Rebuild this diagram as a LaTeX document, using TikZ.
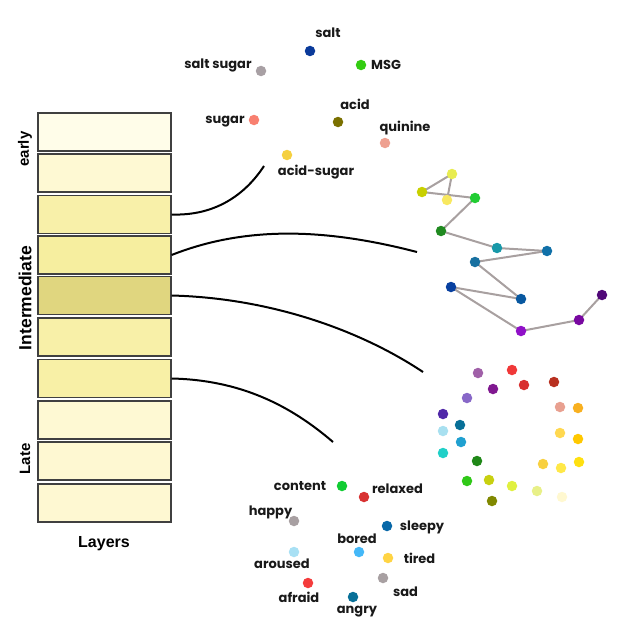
\documentclass[tikz,border=0pt]{standalone}
\usepackage{fontspec}
\newfontfamily\lab{Poppins}
\newfontfamily\arl{Liberation Sans}
\usetikzlibrary{backgrounds}
\definecolor{linkgray}{HTML}{A8A0A0}
\newcommand{\dc}[2]{\definecolor{#1}{HTML}{#2}}
\dc{L1}{FFFDE9}\dc{L2}{FEF9D3}\dc{L3}{F8F0A9}\dc{L4}{F6EE9F}\dc{L5}{E0D67F}
\dc{L6}{F8F0A8}\dc{L7}{F8F0A6}\dc{L8}{FEF9D3}\dc{L9}{FEF8D2}\dc{L10}{FEF8D2}
\dc{Tsalt}{0A3A9A}\dc{Tss}{A8A0A4}\dc{Tmsg}{33CC11}\dc{Tacid}{7A7000}\dc{Tsugar}{F88070}
\dc{Tquin}{EEA090}\dc{Tas}{F5D040}
\dc{C1}{E8EC50}\dc{C2}{C8D000}\dc{C3}{F8E860}\dc{C4}{22CC33}\dc{C5}{208A20}
\dc{C6}{1898A8}\dc{C7}{1070A8}\dc{C8}{1870A0}\dc{C9}{0858A0}\dc{C10}{0840A0}
\dc{C11}{9010C8}\dc{C12}{7808A0}\dc{C13}{500878}
\dc{G1}{A060A8}\dc{G2}{F03838}\dc{G3}{801890}\dc{G4}{D83030}\dc{G5}{B83020}
\dc{G6}{8868C8}\dc{G7}{5028A8}\dc{G8}{087098}\dc{G9}{E8A090}\dc{G10}{F8B020}
\dc{G11}{A8E0F0}\dc{G12}{20A0D0}\dc{G13}{FFD850}\dc{G14}{FFC800}\dc{G15}{20D0C8}
\dc{G16}{208818}\dc{G17}{F8D040}\dc{G18}{FFE848}\dc{G19}{FFE010}\dc{G20}{30C818}
\dc{G21}{C8D010}\dc{G22}{E0F040}\dc{G23}{E8F088}\dc{G24}{FFF8D0}\dc{G25}{808800}
\dc{Econtent}{11CC33}\dc{Erelaxed}{D83232}\dc{Egray}{A8A0A2}\dc{Esleepy}{0868A8}
\dc{Ebored}{44B8F8}\dc{Earoused}{A8E0F4}\dc{Etired}{FFD444}\dc{Eafraid}{F43C3C}
\dc{Eangry}{087098}
\begin{document}
\begin{tikzpicture}[x=1pt,y=-1pt,
  dot/.style={circle,fill=#1,minimum size=10.5pt,inner sep=0pt},
  lbl/.style={font=\lab\bfseries\fontsize{13}{15}\selectfont,inner sep=0pt,text=black!90},
  side/.style={font=\arl\bfseries\fontsize{#1}{#1}\selectfont,inner sep=0pt,rotate=90},
  layer/.style={draw=black!75,line width=1.2pt,fill=#1,minimum width=133pt,minimum height=38pt,inner sep=0pt},
  conn/.style={line width=2pt},
  link/.style={draw=linkgray,line width=2pt}]
\useasboundingbox (0,0) rectangle (628,634);

% layers
\node[layer=L1] (r1) at (104.5,132) {};
\node[layer=L2] (r2) at (104.5,173) {};
\node[layer=L3] (r3) at (104.5,214.5) {};
\node[layer=L4] (r4) at (104.5,255) {};
\node[layer=L5] (r5) at (104.5,295.5) {};
\node[layer=L6] (r6) at (104.5,337) {};
\node[layer=L7] (r7) at (104.5,378.5) {};
\node[layer=L8] (r8) at (104.5,420) {};
\node[layer=L9] (r9) at (104.5,461) {};
\node[layer=L10] (r10) at (104.5,503) {};

\node[side=15] (tEarly) at (25,149) {early};
\node[side=17.5] (tInter) at (25,298) {Intermediate};
\node[side=15] (tLate) at (25,459) {Late};
\node[font=\arl\bfseries\fontsize{16}{16}\selectfont,inner sep=0pt] (tLayers) at (104,544) {Layers};

% connectors
\coordinate (e1) at (264,166);
\coordinate (e2) at (417,252);
\coordinate (e3) at (423,372);
\coordinate (e4) at (333,442);
\draw[conn] (r3.east) .. controls (215,216) and (245,195) .. (e1);
\draw[conn] (r4.east) .. controls (250,224) and (332,230) .. (e2);
\draw[conn] (r5.east) .. controls (270,298) and (360,330) .. (e3);
\draw[conn] (r7.east) .. controls (240,380) and (290,405) .. (e4);

% taste cluster
\node[dot=Tsalt] (salt) at (310,51) {};
\node[dot=Tss] (saltsugar) at (261,71) {};
\node[dot=Tmsg] (msg) at (361,65) {};
\node[dot=Tacid] (acid) at (338,122) {};
\node[dot=Tsugar] (sugar) at (254,120) {};
\node[dot=Tquin] (quinine) at (385,143) {};
\node[dot=Tas] (acidsugar) at (287,155) {};
\node[lbl] (lsalt) at (328,33) {salt};
\node[lbl] (lsaltsugar) at (218,65) {salt sugar};
\node[lbl] (lmsg) at (386,65) {MSG};
\node[lbl] (lacid) at (355,104) {acid};
\node[lbl] (lsugar) at (225,122) {sugar};
\node[lbl] (lquinine) at (405,128) {quinine};
\node[lbl] (lacidsugar) at (316,172) {acid-sugar};

% chain cluster
\node[dot=C1] (c1) at (452,174) {};
\node[dot=C2] (c2) at (422,192) {};
\node[dot=C3] (c3) at (447,200) {};
\node[dot=C4] (c4) at (475,198) {};
\node[dot=C5] (c5) at (441,231) {};
\node[dot=C6] (c6) at (497,248) {};
\node[dot=C7] (c7) at (547,251) {};
\node[dot=C8] (c8) at (475,262) {};
\node[dot=C9] (c9) at (521,299) {};
\node[dot=C10] (c10) at (451,287) {};
\node[dot=C11] (c11) at (521,331) {};
\node[dot=C12] (c12) at (579,320) {};
\node[dot=C13] (c13) at (602,295) {};
\begin{scope}[on background layer]
\draw[link] (c2.center) -- (c1.center);
\draw[link] (c1.center) -- (c3.center);
\draw[link] (c2.center) -- (c4.center);
\draw[link] (c4.center) -- (c5.center);
\draw[link] (c5.center) -- (c6.center);
\draw[link] (c6.center) -- (c7.center);
\draw[link] (c7.center) -- (c8.center);
\draw[link] (c8.center) -- (c9.center);
\draw[link] (c9.center) -- (c10.center);
\draw[link] (c10.center) -- (c11.center);
\draw[link] (c11.center) -- (c12.center);
\draw[link] (c12.center) -- (c13.center);
\end{scope}

% ring cluster
\node[dot=G1] (g1) at (478,373) {};
\node[dot=G2] (g2) at (512,370) {};
\node[dot=G3] (g3) at (493,389) {};
\node[dot=G4] (g4) at (524,385) {};
\node[dot=G5] (g5) at (554,382) {};
\node[dot=G6] (g6) at (467,398) {};
\node[dot=G7] (g7) at (443,414) {};
\node[dot=G8] (g8) at (460,425) {};
\node[dot=G9] (g9) at (560,407) {};
\node[dot=G10] (g10) at (578,408) {};
\node[dot=G11] (g11) at (443,431) {};
\node[dot=G12] (g12) at (461,442) {};
\node[dot=G13] (g13) at (560,433) {};
\node[dot=G14] (g14) at (578,439) {};
\node[dot=G15] (g15) at (443,453) {};
\node[dot=G16] (g16) at (477,461) {};
\node[dot=G17] (g17) at (543,464) {};
\node[dot=G18] (g18) at (561,468) {};
\node[dot=G19] (g19) at (579,462) {};
\node[dot=G20] (g20) at (467,481) {};
\node[dot=G21] (g21) at (489,480) {};
\node[dot=G22] (g22) at (512,486) {};
\node[dot=G23] (g23) at (537,491) {};
\node[dot=G24] (g24) at (562,497) {};
\node[dot=G25] (g25) at (492,501) {};

% emotion cluster
\node[dot=Econtent] (content) at (342,486) {};
\node[dot=Erelaxed] (relaxed) at (364,497) {};
\node[dot=Egray] (happy) at (294,521) {};
\node[dot=Esleepy] (sleepy) at (387,526) {};
\node[dot=Ebored] (bored) at (359,552) {};
\node[dot=Earoused] (aroused) at (294,552) {};
\node[dot=Etired] (tired) at (388,558) {};
\node[dot=Egray] (sad) at (383,578) {};
\node[dot=Eafraid] (afraid) at (308,583) {};
\node[dot=Eangry] (angry) at (353,597) {};
\node[lbl] (lcontent) at (300,486) {content};
\node[lbl] (lrelaxed) at (397.5,489) {relaxed};
\node[lbl] (lhappy) at (270.5,512) {happy};
\node[lbl] (lsleepy) at (422,527) {sleepy};
\node[lbl] (lbored) at (357,539) {bored};
\node[lbl] (laroused) at (282,564) {aroused};
\node[lbl] (ltired) at (419.5,558) {tired};
\node[lbl] (lsad) at (405.5,592) {sad};
\node[lbl] (lafraid) at (299,597) {afraid};
\node[lbl] (langry) at (357,612) {angry};
\end{tikzpicture}
\end{document}
